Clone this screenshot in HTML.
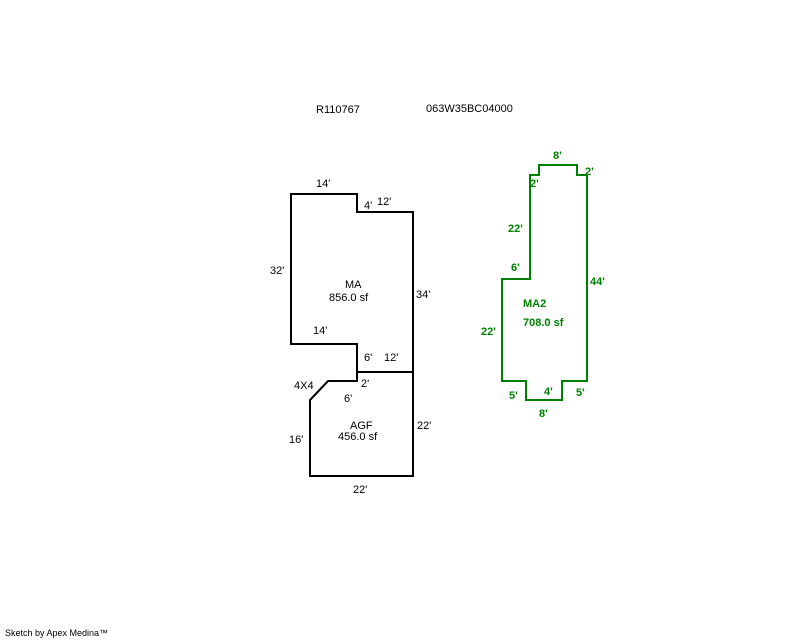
<!DOCTYPE html>
<html><head><style>
html,body{margin:0;padding:0;background:#fff;}
svg{display:block;}
text{font-family:"Liberation Sans",sans-serif;font-size:11px;}
.g{fill:#008000;font-weight:bold;}
</style></head><body>
<svg width="800" height="640" viewBox="0 0 800 640" xmlns="http://www.w3.org/2000/svg">
<rect width="800" height="640" fill="#fff"/>
<text x="316" y="113">R110767</text>
<text x="426" y="112">063W35BC04000</text>
<g fill="none" stroke="#000" stroke-width="2">
<polygon points="291,194 357,194 357,212 413,212 413,476 310,476 310,400 328,381 357,381 357,344 291,344"/>
<line x1="357" y1="372" x2="413" y2="372"/>
</g>
<text x="316" y="187">14'</text>
<text x="364" y="209">4'</text>
<text x="377" y="205">12'</text>
<text x="270" y="274">32'</text>
<text x="345" y="288">MA</text>
<text x="329" y="301">856.0 sf</text>
<text x="416" y="298">34'</text>
<text x="313" y="334">14'</text>
<text x="364" y="361">6'</text>
<text x="384" y="361">12'</text>
<text x="294" y="389">4X4</text>
<text x="361" y="387">2'</text>
<text x="344" y="402">6'</text>
<text x="350" y="429">AGF</text>
<text x="338" y="440">456.0 sf</text>
<text x="417" y="429">22'</text>
<text x="289" y="443">16'</text>
<text x="353" y="493">22'</text>
<polygon fill="none" stroke="#008000" stroke-width="2" points="502,279 530,279 530,175 539,175 539,165 577,165 577,175 587,175 587,381 562,381 562,400 526,400 526,381 502,381"/>
<text class="g" x="553" y="159">8'</text>
<text class="g" x="585" y="175">2'</text>
<text class="g" x="530" y="187">2'</text>
<text class="g" x="508" y="232">22'</text>
<text class="g" x="511" y="271">6'</text>
<text class="g" x="590" y="285">44'</text>
<text class="g" x="523" y="307">MA2</text>
<text class="g" x="523" y="326">708.0 sf</text>
<text class="g" x="481" y="335">22'</text>
<text class="g" x="509" y="399">5'</text>
<text class="g" x="544" y="395">4'</text>
<text class="g" x="576" y="396">5'</text>
<text class="g" x="539" y="417">8'</text>
<text x="5" y="636" style="font-size:9px">Sketch by Apex Medina™</text>
</svg>
</body></html>
